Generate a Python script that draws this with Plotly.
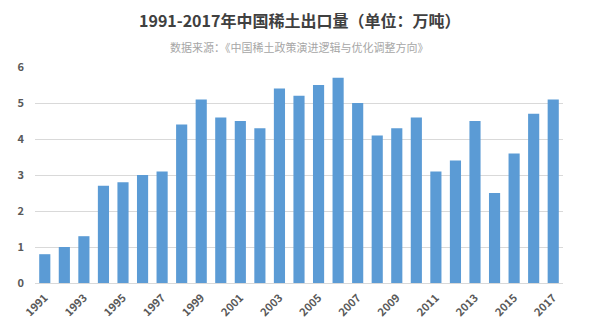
import plotly.graph_objects as go

years = [str(y) for y in range(1991, 2018)]
values = [0.8, 1.0, 1.3, 2.7, 2.8, 3.0, 3.1, 4.4, 5.1, 4.6, 4.5, 4.3, 5.4, 5.2,
          5.5, 5.7, 5.0, 4.1, 4.3, 4.6, 3.1, 3.4, 4.5, 2.5, 3.6, 4.7, 5.1]
tick_labels = [str(y) for y in range(1991, 2018, 2)]
y_ticks = [0, 1, 2, 3, 4, 5, 6]

title = "1991-2017年中国稀土出口量（单位：万吨）"
subtitle = "数据来源：《中国稀土政策演进逻辑与优化调整方向》"

fig = go.Figure(go.Bar(x=years, y=values, marker=dict(color="#5b9bd5", line=dict(width=0))))

plot_h = 334 - 67 - 51

def py_to_paper(py):
    return 1 + (67 - py) / plot_h

fig.update_layout(
    width=600, height=334,
    margin=dict(l=35, r=37, t=67, b=51),
    paper_bgcolor="white", plot_bgcolor="white",
    bargap=0.43,
    showlegend=False,
    font=dict(family="Noto Sans CJK SC", color="#595959"),
    annotations=[
        dict(text="<b>" + title + "</b>", x=0.5, y=py_to_paper(20), xref="paper", yref="paper",
             yanchor="middle", showarrow=False, font=dict(size=16, color="#404040")),
        dict(text=subtitle, x=0.5, y=py_to_paper(47), xref="paper", yref="paper",
             yanchor="middle", showarrow=False, font=dict(size=11, color="#a6a6a6")),
    ],
)

fig.update_xaxes(
    type="category", tickmode="array", tickvals=tick_labels, ticktext=tick_labels,
    tickangle=-45, tickfont=dict(size=11, color="#595959", weight=600),
    showgrid=False, showline=True, linecolor="#d9d9d9", ticks="",
    ticklabelstandoff=3,
)
fig.update_yaxes(
    range=[0, 6], tickvals=y_ticks, showgrid=True, gridcolor="#d9d9d9",
    zeroline=False, tickfont=dict(size=11, color="#595959", weight=600), ticks="",
    ticklabelstandoff=10,
)

fig.write_html("out.html")
